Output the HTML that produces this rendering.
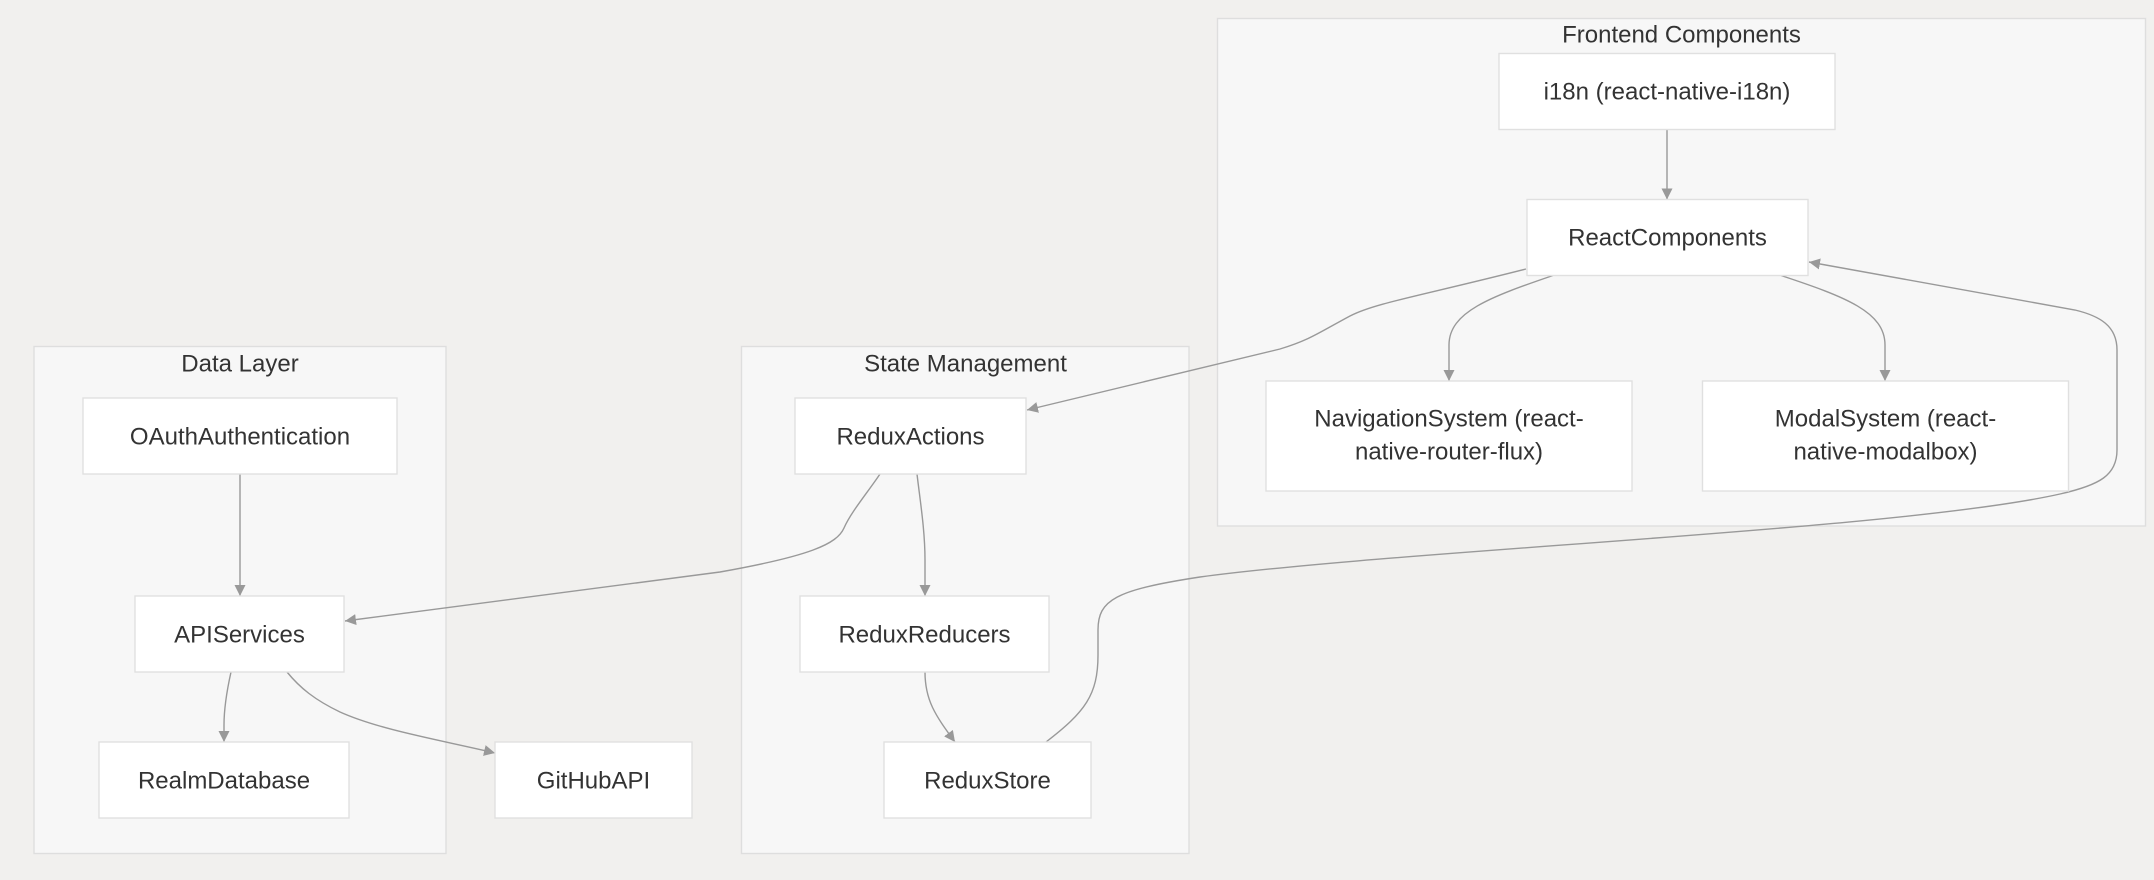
<!DOCTYPE html>
<html>
<head>
<meta charset="utf-8">
<style>
  html, body { margin: 0; padding: 0; background: #f1f0ee; }
  body { width: 2154px; height: 880px; overflow: hidden; }
  svg { display: block; }
  text { font-family: "Liberation Sans", sans-serif; font-size: 24px; fill: #333333; }
</style>
</head>
<body>
<svg width="2154" height="880" viewBox="0 0 2154 880" xmlns="http://www.w3.org/2000/svg">
  <defs>
    <marker id="arr" markerUnits="userSpaceOnUse" markerWidth="12" markerHeight="12" refX="11" refY="5.5" orient="auto">
      <path d="M0,0 L11,5.5 L0,11 z" fill="#999999"/>
    </marker>
  </defs>
  <rect x="0" y="0" width="2154" height="880" fill="#f1f0ee"/>

  <!-- Clusters -->
  <rect x="34" y="346.5" width="412" height="507" fill="#f7f7f7" stroke="#dedede" stroke-width="1.4"/>
  <text x="240" y="364" text-anchor="middle" dominant-baseline="central">Data Layer</text>

  <rect x="741.5" y="346.5" width="447.5" height="507" fill="#f7f7f7" stroke="#dedede" stroke-width="1.4"/>
  <text x="965.5" y="364" text-anchor="middle" dominant-baseline="central">State Management</text>

  <rect x="1217.5" y="18.5" width="928" height="507.5" fill="#f7f7f7" stroke="#dedede" stroke-width="1.4"/>
  <text x="1681.5" y="35" text-anchor="middle" dominant-baseline="central">Frontend Components</text>

  <!-- Edges -->
  <g fill="none" stroke="#999999" stroke-width="1.4">
    <!-- OAuth -> API -->
    <path d="M240,474 L240,596" marker-end="url(#arr)"/>
    <!-- API -> Realm -->
    <path d="M231,672 C227,690 224,708 224,725 L224,742" marker-end="url(#arr)"/>
    <!-- API -> GitHub -->
    <path d="M287,672 C300,688 315,700 340,712 C380,730 440,740 495,753" marker-end="url(#arr)"/>
    <!-- ReduxActions -> API -->
    <path d="M880,474 C868,492 851,512 844,528 C837,544 810,556 720,572 L345,621" marker-end="url(#arr)"/>
    <!-- ReduxActions -> Reducers -->
    <path d="M917,474 C920,500 925,530 925,560 L925,596" marker-end="url(#arr)"/>
    <!-- Reducers -> Store -->
    <path d="M925,672 C925,700 935,715 955,742" marker-end="url(#arr)"/>
    <!-- Store -> React -->
    <path d="M1046,742 C1085,712 1098,695 1098,655 L1098,630 C1098,600 1115,590 1200,577 C1400,550 1900,530 2060,494 C2100,485 2117,475 2117,450 L2117,350 C2117,326 2100,316 2075,310 L1809,262" marker-end="url(#arr)"/>
    <!-- i18n -> React -->
    <path d="M1667,129.5 L1667,199.5" marker-end="url(#arr)"/>
    <!-- React -> Nav -->
    <path d="M1553,275.5 C1490,297 1449,312 1449,345 L1449,381" marker-end="url(#arr)"/>
    <!-- React -> Modal -->
    <path d="M1781,275.5 C1846,297 1885,312 1885,345 L1885,381" marker-end="url(#arr)"/>
    <!-- React -> ReduxActions -->
    <path d="M1526,269 C1420,296 1375,303 1350,316 C1320,332 1310,340 1280,349 L1027,410" marker-end="url(#arr)"/>
  </g>

  <!-- Nodes -->
  <g fill="#ffffff" stroke="#e0e0e0" stroke-width="1.4">
    <rect x="83" y="398" width="314" height="76"/>
    <rect x="135" y="596" width="209" height="76"/>
    <rect x="99" y="742" width="250" height="76"/>
    <rect x="495" y="742" width="197" height="76"/>
    <rect x="795" y="398" width="231" height="76"/>
    <rect x="800" y="596" width="249" height="76"/>
    <rect x="884" y="742" width="207" height="76"/>
    <rect x="1499" y="53.5" width="336" height="76"/>
    <rect x="1527" y="199.5" width="281" height="76"/>
    <rect x="1266" y="381" width="366" height="110"/>
    <rect x="1702.5" y="381" width="366" height="110"/>
  </g>

  <g text-anchor="middle" dominant-baseline="central">
    <text x="240" y="437">OAuthAuthentication</text>
    <text x="239.5" y="635">APIServices</text>
    <text x="224" y="781">RealmDatabase</text>
    <text x="593.5" y="781">GitHubAPI</text>
    <text x="910.5" y="437">ReduxActions</text>
    <text x="924.5" y="635">ReduxReducers</text>
    <text x="987.5" y="781">ReduxStore</text>
    <text x="1667" y="92">i18n (react-native-i18n)</text>
    <text x="1667.5" y="238">ReactComponents</text>
    <text x="1449" y="419">NavigationSystem (react-</text>
    <text x="1449" y="452">native-router-flux)</text>
    <text x="1885.5" y="419">ModalSystem (react-</text>
    <text x="1885.5" y="452">native-modalbox)</text>
  </g>
</svg>
</body>
</html>
